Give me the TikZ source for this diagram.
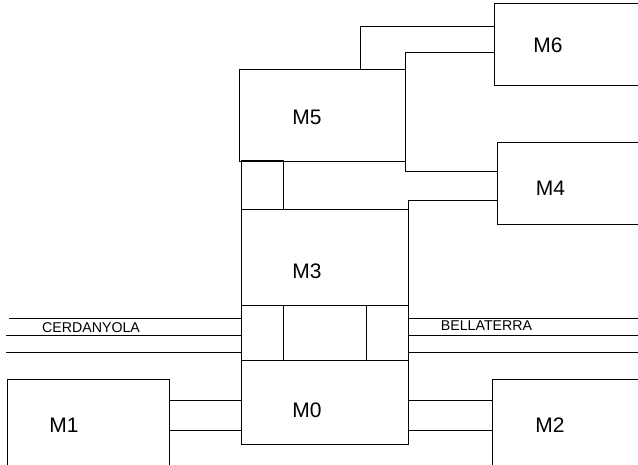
\documentclass[tikz,border=0pt]{standalone}
\usepackage{fontspec}
\setmainfont{Liberation Sans}
\begin{document}
\begin{tikzpicture}[x=1pt,y=-1pt,
line width=0.8pt,
b/.style={
draw,
anchor=north west,
inner sep=0pt,
outer sep=0pt},
modlabel/.style={font=\fontsize{21}{21}\selectfont},
roadlabel/.style={font=\fontsize{14.2}{14.2}\selectfont},
]
\clip(0,0)rectangle(638,465);
%Modules
\node[b,minimum width=166.5pt,minimum height=92pt](m5)at(239,69){};
\node[b,minimum width=41.5pt,minimum height=49.5pt](hall)at(241.5,160){};
\node[b,minimum width=167pt,minimum height=96pt](m3)at(241.5,209.5){};
\node[b,minimum width=167pt,minimum height=55pt](bridge)at(241.5,305.5){};
\node[b,minimum width=83.5pt,minimum height=55pt](core)at(283,305.5){};
\node[b,minimum width=167pt,minimum height=84pt](m0)at(241.5,360.5){};
\node[b,minimum width=162pt,minimum height=90pt](m1)at(7.5,379){};
\node[b,minimum width=150pt,minimum height=90pt](m2)at(492,379){};
\node[b,minimum width=150pt,minimum height=82.5pt](m6)at(494.5,3){};
\node[b,minimum width=145pt,minimum height=82pt](m4)at(497,142){};
%Names
\node[modlabel](m5t)at(307,117){M5};
\node[modlabel](m3t)at(307,271.5){M3};
\node[modlabel](m0t)at(307,410){M0};
\node[modlabel](m1t)at(64,425){M1};
\node[modlabel](m2t)at(550,425){M2};
\node[modlabel](m6t)at(548,45.5){M6};
\node[modlabel](m4t)at(550.5,188.5){M4};
%Roads
\foreach \y/\x in {318/9,335/6,352/6}{
\coordinate(w\y)at(\x,\y);
\coordinate(e\y)at(638,\y);
\draw(w\y)--(w\y-|bridge.west);
\draw(e\y)--(e\y-|bridge.east);
}
\node[roadlabel](cerd)at(91,328){CERDANYOLA};
\node[roadlabel](bell)at(486.5,326){BELLATERRA};
%Links
\foreach \y in {400,430}{
\coordinate(l\y)at(169.5,\y);
\draw(l\y)--(l\y-|m0.west);
\coordinate(r\y)at(408.5,\y);
\draw(r\y)--(r\y-|m2.west);
}
\coordinate(m5a)at(360,69);
\coordinate(m6a)at(494.5,26.5);
\coordinate(m6b)at(494.5,52);
\coordinate(m4a)at(497,171.5);
\coordinate(m4b)at(497,200.5);
\draw(m5a)|-(m6a);
\draw(m5.north east)|-(m6b);
\draw(m5.south east)|-(m4a);
\draw(m3.north east)|-(m4b);
\end{tikzpicture}
\end{document}
